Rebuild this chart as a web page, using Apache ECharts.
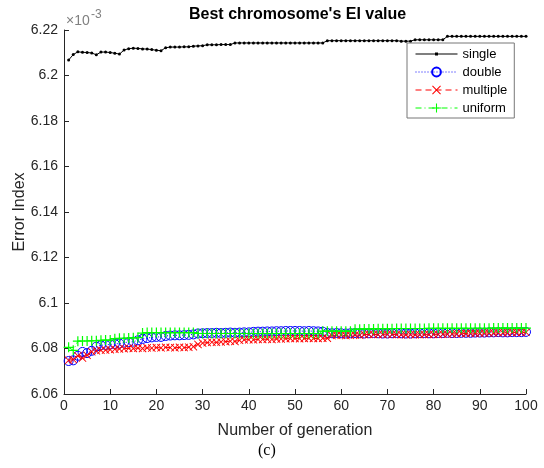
<!DOCTYPE html>
<html>
<head>
<meta charset="utf-8">
<script src="https://cdn.jsdelivr.net/npm/echarts@6/dist/echarts.min.js"></script>
<style>
  html, body { margin: 0; padding: 0; background: #fff; }
  #chart { width: 544px; height: 468px; }
</style>
</head>
<body>
<div id="chart"></div>
<script>
// values are in units of 1e-3
const generations = Array.from({ length: 100 }, (_, i) => i + 1);
const yTicks = [6.06, 6.08, 6.1, 6.12, 6.14, 6.16, 6.18, 6.2, 6.22];
const seriesNames = ['single', 'double', 'multiple', 'uniform'];

const single = [
  6.2068, 6.2092, 6.2104, 6.2102, 6.2101, 6.2099, 6.2091, 6.2103, 6.2103, 6.2101,
  6.2098, 6.2094, 6.2112, 6.2118, 6.2120, 6.2119, 6.2117, 6.2116, 6.2114, 6.2111,
  6.2109, 6.2122, 6.2125, 6.2125, 6.2125, 6.2126, 6.2126, 6.2129, 6.2130, 6.2131,
  6.2135, 6.2135, 6.2135, 6.2136, 6.2136, 6.2136, 6.2143, 6.2143, 6.2143, 6.2143,
  6.2143, 6.2143, 6.2143, 6.2143, 6.2143, 6.2143, 6.2143, 6.2143, 6.2143, 6.2143,
  6.2143, 6.2143, 6.2143, 6.2143, 6.2143, 6.2143, 6.2153, 6.2153, 6.2153, 6.2153,
  6.2153, 6.2153, 6.2153, 6.2153, 6.2153, 6.2153, 6.2153, 6.2153, 6.2153, 6.2153,
  6.2153, 6.2153, 6.2151, 6.2151, 6.2151, 6.2157, 6.2157, 6.2157, 6.2157, 6.2157,
  6.2157, 6.2157, 6.2172, 6.2172, 6.2172, 6.2172, 6.2172, 6.2172, 6.2172, 6.2172,
  6.2172, 6.2172, 6.2172, 6.2172, 6.2172, 6.2172, 6.2172, 6.2172, 6.2172, 6.2172
];

const double = [
  6.0745, 6.0748, 6.0768, 6.0785, 6.0780, 6.0790, 6.0808, 6.0814, 6.0816, 6.0818,
  6.0820, 6.0822, 6.0826, 6.0828, 6.0830, 6.0836, 6.0842, 6.0846, 6.0849, 6.0851,
  6.0851, 6.0855, 6.0857, 6.0858, 6.0858, 6.0859, 6.0860, 6.0862, 6.0866, 6.0867,
  6.0868, 6.0868, 6.0869, 6.0868, 6.0869, 6.0870, 6.0869, 6.0870, 6.0871, 6.0871,
  6.0873, 6.0874, 6.0874, 6.0875, 6.0875, 6.0876, 6.0876, 6.0877, 6.0877, 6.0877,
  6.0877, 6.0876, 6.0877, 6.0876, 6.0875, 6.0874, 6.0868, 6.0867, 6.0868, 6.0867,
  6.0866, 6.0867, 6.0868, 6.0867, 6.0866, 6.0867, 6.0868, 6.0867, 6.0866, 6.0866,
  6.0867, 6.0868, 6.0867, 6.0866, 6.0866, 6.0867, 6.0868, 6.0868, 6.0867, 6.0867,
  6.0868, 6.0868, 6.0869, 6.0868, 6.0868, 6.0869, 6.0869, 6.0869, 6.0870, 6.0870,
  6.0870, 6.0871, 6.0871, 6.0872, 6.0871, 6.0871, 6.0872, 6.0872, 6.0872, 6.0873
];

const multiple = [
  6.0748, 6.0752, 6.0768, 6.0758, 6.0770, 6.0786, 6.0790, 6.0792, 6.0793, 6.0795,
  6.0797, 6.0798, 6.0799, 6.0801, 6.0800, 6.0802, 6.0800, 6.0803, 6.0802, 6.0804,
  6.0803, 6.0805, 6.0804, 6.0803, 6.0805, 6.0804, 6.0806, 6.0808, 6.0818, 6.0824,
  6.0826, 6.0828, 6.0827, 6.0829, 6.0830, 6.0832, 6.0831, 6.0836, 6.0838, 6.0839,
  6.0838, 6.0840, 6.0840, 6.0841, 6.0840, 6.0842, 6.0842, 6.0843, 6.0844, 6.0844,
  6.0843, 6.0844, 6.0845, 6.0844, 6.0844, 6.0845, 6.0845, 6.0857, 6.0858, 6.0858,
  6.0857, 6.0858, 6.0859, 6.0858, 6.0861, 6.0862, 6.0862, 6.0861, 6.0862, 6.0863,
  6.0862, 6.0861, 6.0860, 6.0860, 6.0861, 6.0860, 6.0860, 6.0861, 6.0861, 6.0862,
  6.0862, 6.0863, 6.0863, 6.0864, 6.0864, 6.0866, 6.0866, 6.0867, 6.0867, 6.0867,
  6.0868, 6.0868, 6.0868, 6.0869, 6.0869, 6.0869, 6.0870, 6.0870, 6.0870, 6.0871
];

const uniform = [
  6.0805, 6.0792, 6.0832, 6.0833, 6.0833, 6.0834, 6.0834, 6.0836, 6.0837, 6.0837,
  6.0843, 6.0845, 6.0845, 6.0846, 6.0847, 6.0848, 6.0868, 6.0870, 6.0870, 6.0870,
  6.0870, 6.0870, 6.0870, 6.0870, 6.0870, 6.0870, 6.0870, 6.0870, 6.0866, 6.0866,
  6.0866, 6.0866, 6.0866, 6.0866, 6.0866, 6.0866, 6.0866, 6.0866, 6.0866, 6.0866,
  6.0866, 6.0866, 6.0866, 6.0866, 6.0866, 6.0866, 6.0866, 6.0866, 6.0866, 6.0866,
  6.0866, 6.0866, 6.0866, 6.0866, 6.0866, 6.0876, 6.0876, 6.0876, 6.0876, 6.0876,
  6.0876, 6.0876, 6.0885, 6.0885, 6.0886, 6.0886, 6.0886, 6.0887, 6.0887, 6.0887,
  6.0887, 6.0888, 6.0888, 6.0888, 6.0888, 6.0888, 6.0888, 6.0888, 6.0889, 6.0889,
  6.0889, 6.0889, 6.0889, 6.0889, 6.0889, 6.0889, 6.0889, 6.0889, 6.0889, 6.0889,
  6.0889, 6.0889, 6.0890, 6.0890, 6.0890, 6.0890, 6.0890, 6.0890, 6.0890, 6.0890
];

const pairs = (vals) => generations.map((g, i) => [g, vals[i]]);

const plusPath = 'path://M4.4,0H5.6V4.4H10V5.6H5.6V10H4.4V5.6H0V4.4H4.4Z';
const crossPath = 'path://M0.8,0L5,4.2L9.2,0L10,0.8L5.8,5L10,9.2L9.2,10L5,5.8L0.8,10L0,9.2L4.2,5L0,0.8Z';
// legend icon for 'single': thin line with a small dot, sized to the 42x11 legend box
const singleIcon = 'path://M0,0h0.01v0.01h-0.01z M41.99,10.99h0.01v0.01h-0.01z M0,5H42V6H0z M19.5,4H22.5V7H19.5z';

const axisColor = '#262626';
const font = 'Liberation Sans';

const chart = echarts.init(document.getElementById('chart'), null, { renderer: 'canvas' });

const option = {
  backgroundColor: '#fff',
  animation: false,
  title: [
    {
      text: "Best chromosome's EI value",
      left: 189,
      top: 7,
      padding: 0,
      textStyle: { fontFamily: font, fontSize: 16, fontWeight: 'bold', color: '#000' }
    },
    {
      text: '×10',
      left: 66,
      top: 14,
      padding: 0,
      textStyle: { fontFamily: font, fontSize: 14, fontWeight: 'normal', color: '#808080' }
    },
    {
      text: '-3',
      left: 91,
      top: 9,
      padding: 0,
      textStyle: { fontFamily: font, fontSize: 12, fontWeight: 'normal', color: '#808080' }
    },
    {
      text: '(c)',
      left: 258,
      top: 443,
      padding: 0,
      textStyle: { fontFamily: 'Liberation Serif', fontSize: 16, fontWeight: 'normal', color: '#000' }
    }
  ],
  legend: {
    data: [
      { name: seriesNames[0], icon: singleIcon },
      seriesNames[1],
      seriesNames[2],
      seriesNames[3]
    ],
    orient: 'vertical',
    left: 407,
    top: 43,
    padding: [4, 7, 3, 8],
    itemWidth: 42,
    itemHeight: 11,
    itemGap: 4,
    selectedMode: false,
    backgroundColor: '#fff',
    borderColor: '#777',
    borderWidth: 1,
    borderRadius: 0,
    lineStyle: { width: 1 },
    textStyle: { fontFamily: font, fontSize: 13, color: '#000', lineHeight: 14 }
  },
  grid: { left: 64, right: 18, top: 30, bottom: 74, outerBoundsMode: 'none' },
  xAxis: {
    type: 'value',
    min: 0,
    max: 100,
    interval: 10,
    name: 'Number of generation',
    nameLocation: 'middle',
    nameGap: 29,
    nameMoveOverlap: false,
    nameTextStyle: { fontFamily: font, fontSize: 16, color: axisColor },
    axisLine: { show: true, lineStyle: { color: axisColor, width: 1 } },
    axisTick: { show: true, inside: true, length: 5, lineStyle: { color: axisColor } },
    axisLabel: { fontFamily: font, fontSize: 14, color: axisColor, margin: 5 },
    splitLine: { show: false }
  },
  yAxis: {
    type: 'value',
    min: yTicks[0],
    max: yTicks[yTicks.length - 1],
    interval: 0.02,
    name: 'Error Index',
    nameLocation: 'middle',
    nameGap: 44,
    nameMoveOverlap: false,
    nameTextStyle: { fontFamily: font, fontSize: 16, color: axisColor, verticalAlign: 'middle' },
    axisLine: { show: true, lineStyle: { color: axisColor, width: 1 } },
    axisTick: { show: true, inside: true, length: 5, lineStyle: { color: axisColor } },
    axisLabel: {
      fontFamily: font,
      fontSize: 14,
      color: axisColor,
      margin: 6,
      formatter: (v) => String(Number(v.toFixed(2)))
    },
    splitLine: { show: false }
  },
  series: [
    {
      name: 'single',
      type: 'line',
      data: pairs(single),
      symbol: 'circle',
      symbolSize: 3,
      showAllSymbol: true,
      itemStyle: { color: '#000' },
      lineStyle: { color: '#000', width: 1 }
    },
    {
      name: 'double',
      type: 'line',
      data: pairs(double),
      symbol: 'circle',
      symbolSize: 9,
      showAllSymbol: true,
      itemStyle: { color: 'rgba(0,0,0,0)', borderColor: '#0000ff', borderWidth: 1 },
      lineStyle: { color: '#0000ff', width: 1, type: [1, 2] }
    },
    {
      name: 'multiple',
      type: 'line',
      data: pairs(multiple),
      symbol: crossPath,
      symbolSize: 8,
      showAllSymbol: true,
      itemStyle: { color: '#ff0000' },
      lineStyle: { color: '#ff0000', width: 1, type: [6, 4] }
    },
    {
      name: 'uniform',
      type: 'line',
      data: pairs(uniform),
      symbol: plusPath,
      symbolSize: 10,
      showAllSymbol: true,
      itemStyle: { color: '#00ff00' },
      lineStyle: { color: '#00ff00', width: 1, type: [6, 3, 1, 3] }
    }
  ]
};

chart.setOption(option);
window.addEventListener('resize', chart.resize);
</script>
</body>
</html>
